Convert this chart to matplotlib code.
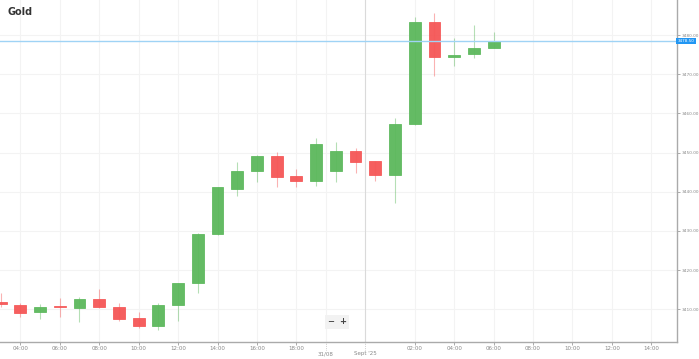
import numpy as np
import matplotlib.pyplot as plt

# hourly candles, index 0 = 03:00 (29/08)
opens = [3411.7, 3411.0, 3409.2, 3410.7, 3410.3, 3412.5, 3410.5, 3407.8, 3405.8, 3411.0,
         3416.7, 3429.3, 3440.8, 3445.3, 3449.1, 3444.1, 3442.7, 3445.3, 3450.4, 3447.8,
         3444.2, 3457.3, 3483.4, 3474.4, 3475.1, 3476.8]
highs = [3414.1, 3411.6, 3411.3, 3412.9, 3413.0, 3415.1, 3411.5, 3409.2, 3411.5, 3416.8,
         3429.5, 3441.3, 3447.6, 3449.5, 3450.2, 3445.7, 3453.8, 3452.7, 3451.1, 3447.9,
         3458.9, 3484.7, 3485.7, 3479.2, 3482.6, 3480.7]
lows = [3410.5, 3407.9, 3407.4, 3408.0, 3406.8, 3410.2, 3407.0, 3405.1, 3404.6, 3406.9,
        3414.1, 3429.0, 3439.0, 3442.4, 3441.1, 3441.2, 3441.5, 3442.4, 3444.8, 3442.7,
        3437.2, 3457.0, 3469.6, 3472.2, 3474.1, 3476.7]
closes = [3411.3, 3409.05, 3410.6, 3410.5, 3412.5, 3410.5, 3407.6, 3405.7, 3411.0, 3416.7,
          3429.3, 3441.1, 3445.4, 3449.1, 3443.8, 3442.7, 3452.3, 3450.4, 3447.7, 3444.2,
          3457.3, 3483.4, 3474.4, 3474.9, 3476.8, 3478.5]
last_price = 3478.5

price_ticks = [3410, 3420, 3430, 3440, 3450, 3460, 3470, 3480]
time_ticks = [1, 3, 5, 7, 9, 11, 13, 15, 21, 23, 25, 27, 29, 31, 33]
time_labels = ['04:00', '06:00', '08:00', '10:00', '12:00', '14:00', '16:00', '18:00',
               '02:00', '04:00', '06:00', '08:00', '10:00', '12:00', '14:00']
day_ticks = [16.5, 18.5]
day_labels = ['31/08', "Sept '25"]

green = '#5cb85c'
red = '#f55656'
grey_txt = '#888888'

fig = plt.figure(figsize=(6.99, 3.59), dpi=100)
ax = fig.add_axes([0, 17 / 359, 677 / 699, 342 / 359])

ax.set_xlim(-0.03, 34.3)
ax.set_ylim(3401.6, 3489.0)

# grid
for p in price_ticks:
    ax.axhline(p, color='#f3f3f3', lw=0.8, zorder=0)
for t in time_ticks:
    ax.axvline(t, color='#f3f3f3', lw=0.8, zorder=0)
ax.axvline(day_ticks[0], color='#f3f3f3', lw=0.8, zorder=0)
ax.axvline(day_ticks[1], color='#dadada', lw=0.8, zorder=0)

w = 0.6
for i in range(len(opens)):
    o, h, l, c = opens[i], highs[i], lows[i], closes[i]
    col = green if c >= o else red
    ax.vlines(i, l, h, color=col, lw=0.8, alpha=0.45, zorder=2)
    bottom = min(o, c)
    height = max(abs(c - o), 0.35)
    ax.bar(i, height, width=w, bottom=bottom, color=col, edgecolor=col,
           linewidth=0.6, alpha=0.95, zorder=3)

# last price line and label
ax.axhline(last_price, color='#9fd3f5', lw=1.0, zorder=4)
ax.text(34.33, last_price, f'{last_price:.2f}', fontsize=3.0, color='white',
        va='center', ha='left', clip_on=False, zorder=6,
        bbox=dict(boxstyle='square,pad=0.3', fc='#2196f3', ec='none'))

# axes style
for s in ['top', 'left']:
    ax.spines[s].set_visible(False)
ax.spines['right'].set_color('#aaaaaa')
ax.spines['bottom'].set_color('#aaaaaa')
ax.spines['right'].set_linewidth(1.0)
ax.spines['bottom'].set_linewidth(1.0)

ax.yaxis.tick_right()
ax.set_yticks(price_ticks)
ax.set_yticklabels([f'{p:.2f}' for p in price_ticks])
ax.tick_params(axis='y', labelsize=3.1, colors=grey_txt, length=2, width=0.5, pad=1)

ax.set_xticks(time_ticks)
ax.set_xticklabels(time_labels)
ax.tick_params(axis='x', labelsize=4.0, colors=grey_txt, length=2, width=0.5, pad=1)

for t, lab in zip(day_ticks, day_labels):
    ax.plot([t, t], [3401.6, 3399.6], color='#aaaaaa', lw=0.5, ls=':', clip_on=False)
    ax.text(t, 3398.6, lab, fontsize=4.0, color=grey_txt, ha='center', va='center',
            clip_on=False)

# title
fig.text(8 / 699, 1 - 12 / 359, 'Gold', fontsize=7, fontweight='bold', color='#333333',
         va='center', ha='left')

# zoom buttons
fig.text(331 / 699, 1 - 322 / 359, '\u2212', fontsize=6, color='#444444', ha='center',
         va='center', fontweight='bold',
         bbox=dict(boxstyle='square,pad=0.25', fc='#f2f2f2', ec='none'))
fig.text(343 / 699, 1 - 322 / 359, '+', fontsize=6, color='#444444', ha='center',
         va='center', fontweight='bold',
         bbox=dict(boxstyle='square,pad=0.25', fc='#f2f2f2', ec='none'))

fig.savefig('out.png', dpi=100)
